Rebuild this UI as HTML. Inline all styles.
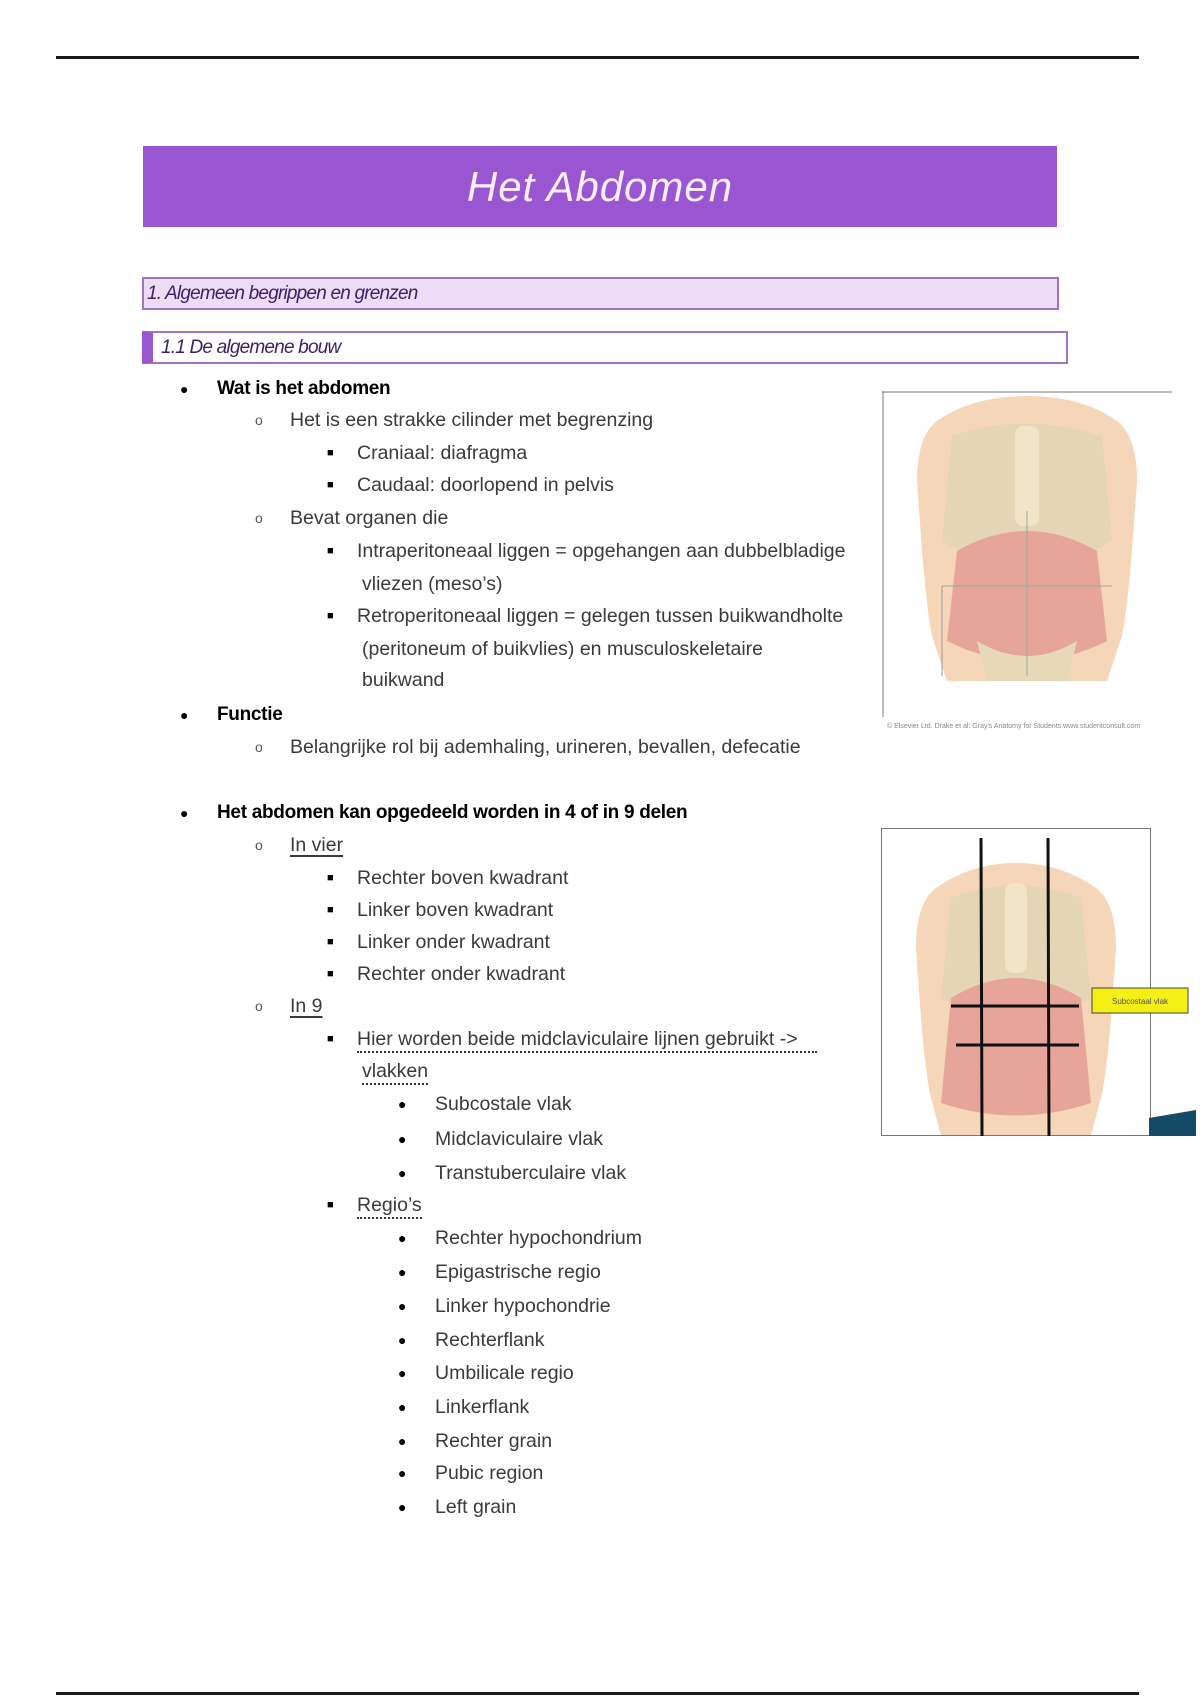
<!DOCTYPE html>
<html><head><meta charset="utf-8"><style>
*{margin:0;padding:0;box-sizing:border-box}
body{width:1200px;height:1700px;background:#fff;position:relative;overflow:hidden;font-family:"Liberation Sans",sans-serif}
.l{position:absolute;font-size:19.5px;line-height:24px;color:#3a3a3a;white-space:nowrap;letter-spacing:0px}
.b{color:#000;font-weight:bold;letter-spacing:-0.3px;font-size:19px}
.m{position:absolute;font-size:14px;line-height:24px;color:#000}
.u{text-decoration:underline;text-underline-offset:4px;text-decoration-thickness:2px}
.d{border-bottom:2px dotted #333}
</style></head><body>
<div style="position:absolute;left:56px;top:56px;width:1083px;height:3px;background:#1a1a1a"></div>
<div style="position:absolute;left:143px;top:146px;width:914px;height:81px;background:#9a56d0;color:#fbeefc;font-size:42px;font-style:italic;text-align:center;line-height:81px;letter-spacing:1px">Het Abdomen</div>
<div style="position:absolute;left:142px;top:277px;width:917px;height:33px;background:#ecdcf6;border:2px solid #a173c8;font-size:19px;font-style:italic;line-height:29px;padding-left:3px;color:#3b2265;letter-spacing:-0.8px">1. Algemeen begrippen en grenzen</div>
<div style="position:absolute;left:142px;top:331px;width:926px;height:33px;background:#fff;border:2px solid #a173c8;border-left:11px solid #9a56d0;font-size:19px;font-style:italic;line-height:29px;padding-left:8px;color:#3b2265;letter-spacing:-0.8px">1.1 De algemene bouw</div>

<div class="m" style="left:180px;top:377px">●</div><div class="l b" style="left:217px;top:377px">Wat is het abdomen</div>
<div class="m" style="left:255px;top:408px;color:#555">o</div><div class="l" style="left:290px;top:408px">Het is een strakke cilinder met begrenzing</div>
<div class="m" style="left:327px;top:441px;font-size:11px">■</div><div class="l" style="left:357px;top:441px">Craniaal: diafragma</div>
<div class="m" style="left:327px;top:473px;font-size:11px">■</div><div class="l" style="left:357px;top:473px">Caudaal: doorlopend in pelvis</div>
<div class="m" style="left:255px;top:506px;color:#555">o</div><div class="l" style="left:290px;top:506px">Bevat organen die</div>
<div class="m" style="left:327px;top:539px;font-size:11px">■</div><div class="l" style="left:357px;top:539px">Intraperitoneaal liggen = opgehangen aan dubbelbladige</div>
<div class="l" style="left:362px;top:572px">vliezen (meso’s)</div>
<div class="m" style="left:327px;top:604px;font-size:11px">■</div><div class="l" style="left:357px;top:604px">Retroperitoneaal liggen = gelegen tussen buikwandholte</div>
<div class="l" style="left:362px;top:637px">(peritoneum of buikvlies) en musculoskeletaire</div>
<div class="l" style="left:362px;top:668px">buikwand</div>
<div class="m" style="left:180px;top:703px">●</div><div class="l b" style="left:217px;top:703px">Functie</div>
<div class="m" style="left:255px;top:735px;color:#555">o</div><div class="l" style="left:290px;top:735px">Belangrijke rol bij ademhaling, urineren, bevallen, defecatie</div>

<div class="m" style="left:180px;top:801px">●</div><div class="l b" style="left:217px;top:801px">Het abdomen kan opgedeeld worden in 4 of in 9 delen</div>
<div class="m" style="left:255px;top:833px;color:#555">o</div><div class="l u" style="left:290px;top:833px">In vier</div>
<div class="m" style="left:327px;top:866px;font-size:11px">■</div><div class="l" style="left:357px;top:866px">Rechter boven kwadrant</div>
<div class="m" style="left:327px;top:898px;font-size:11px">■</div><div class="l" style="left:357px;top:898px">Linker boven kwadrant</div>
<div class="m" style="left:327px;top:930px;font-size:11px">■</div><div class="l" style="left:357px;top:930px">Linker onder kwadrant</div>
<div class="m" style="left:327px;top:962px;font-size:11px">■</div><div class="l" style="left:357px;top:962px">Rechter onder kwadrant</div>
<div class="m" style="left:255px;top:994px;color:#555">o</div><div class="l u" style="left:290px;top:994px">In 9</div>
<div class="m" style="left:327px;top:1027px;font-size:11px">■</div><div class="l d" style="left:357px;top:1027px;width:460px">Hier worden beide midclaviculaire lijnen gebruikt -&gt;</div>
<div class="l d" style="left:362px;top:1059px">vlakken</div>
<div class="m" style="left:398px;top:1092px">●</div><div class="l" style="left:435px;top:1092px">Subcostale vlak</div>
<div class="m" style="left:398px;top:1127px">●</div><div class="l" style="left:435px;top:1127px">Midclaviculaire vlak</div>
<div class="m" style="left:398px;top:1161px">●</div><div class="l" style="left:435px;top:1161px">Transtuberculaire vlak</div>
<div class="m" style="left:327px;top:1193px;font-size:11px">■</div><div class="l d" style="left:357px;top:1193px">Regio’s</div>
<div class="m" style="left:398px;top:1226px">●</div><div class="l" style="left:435px;top:1226px">Rechter hypochondrium</div>
<div class="m" style="left:398px;top:1260px">●</div><div class="l" style="left:435px;top:1260px">Epigastrische regio</div>
<div class="m" style="left:398px;top:1294px">●</div><div class="l" style="left:435px;top:1294px">Linker hypochondrie</div>
<div class="m" style="left:398px;top:1328px">●</div><div class="l" style="left:435px;top:1328px">Rechterflank</div>
<div class="m" style="left:398px;top:1361px">●</div><div class="l" style="left:435px;top:1361px">Umbilicale regio</div>
<div class="m" style="left:398px;top:1395px">●</div><div class="l" style="left:435px;top:1395px">Linkerflank</div>
<div class="m" style="left:398px;top:1429px">●</div><div class="l" style="left:435px;top:1429px">Rechter grain</div>
<div class="m" style="left:398px;top:1461px">●</div><div class="l" style="left:435px;top:1461px">Pubic region</div>
<div class="m" style="left:398px;top:1495px">●</div><div class="l" style="left:435px;top:1495px">Left grain</div>

<svg style="position:absolute;left:882px;top:391px" width="290" height="340" viewBox="0 0 290 340">
<line x1="1" y1="0" x2="1" y2="326" stroke="#777"/><line x1="0" y1="1" x2="290" y2="1" stroke="#777"/>
<path d="M55 30 Q90 5 145 5 Q200 5 235 30 Q255 45 255 90 L250 160 Q245 220 240 245 L225 290 L65 290 L50 245 Q45 220 40 160 L35 90 Q35 45 55 30Z" fill="#f5d6b9"/>
<path d="M70 45 Q145 20 220 45 L230 150 Q145 200 60 150Z" fill="#e4d6b4"/>
<path d="M75 160 Q145 120 215 160 L225 250 Q145 290 65 250Z" fill="#e7a59a"/>
<rect x="133" y="35" width="24" height="100" rx="8" fill="#f1e5c8"/>
<path d="M95 250 Q145 280 195 250 L185 290 L105 290Z" fill="#e7d8b8"/>
<line x1="145" y1="120" x2="145" y2="285" stroke="#9aa" /><line x1="60" y1="195" x2="230" y2="195" stroke="#9aa"/>
<line x1="60" y1="195" x2="60" y2="285" stroke="#999"/>
<text x="5" y="337" font-size="7" fill="#888" font-family="Liberation Sans">© Elsevier Ltd. Drake et al: Gray's Anatomy for Students www.studentconsult.com</text>
</svg>

<svg style="position:absolute;left:881px;top:828px" width="320" height="310" viewBox="0 0 320 310">
<rect x="0.5" y="0.5" width="269" height="307" fill="none" stroke="#777"/>
<path d="M55 60 Q90 35 135 35 Q180 35 215 60 Q235 75 235 120 L230 190 Q225 250 220 270 L210 307 L60 307 L50 270 Q45 250 40 190 L35 120 Q35 75 55 60Z" fill="#f5d6b9"/>
<path d="M70 70 Q135 45 200 70 L210 170 Q135 210 60 170Z" fill="#e4d6b4"/>
<path d="M70 170 Q135 130 200 170 L210 275 Q135 300 60 275Z" fill="#e7a59a"/>
<rect x="124" y="55" width="22" height="90" rx="8" fill="#f1e5c8"/>
<line x1="100" y1="10" x2="101" y2="308" stroke="#111" stroke-width="3"/>
<line x1="167" y1="10" x2="168" y2="308" stroke="#111" stroke-width="3"/>
<line x1="70" y1="178" x2="198" y2="178" stroke="#111" stroke-width="3"/>
<line x1="75" y1="217" x2="198" y2="217" stroke="#111" stroke-width="3"/>
<rect x="211" y="160" width="96" height="25" fill="#f4ef14" stroke="#444"/>
<text x="259" y="176" font-size="8" text-anchor="middle" fill="#555" font-family="Liberation Sans">Subcostaal vlak</text>
<path d="M268 290 L315 282 L315 308 L268 308Z" fill="#154b66"/>
</svg>

<div style="position:absolute;left:56px;top:1692px;width:1083px;height:3px;background:#1a1a1a"></div>
</body></html>
